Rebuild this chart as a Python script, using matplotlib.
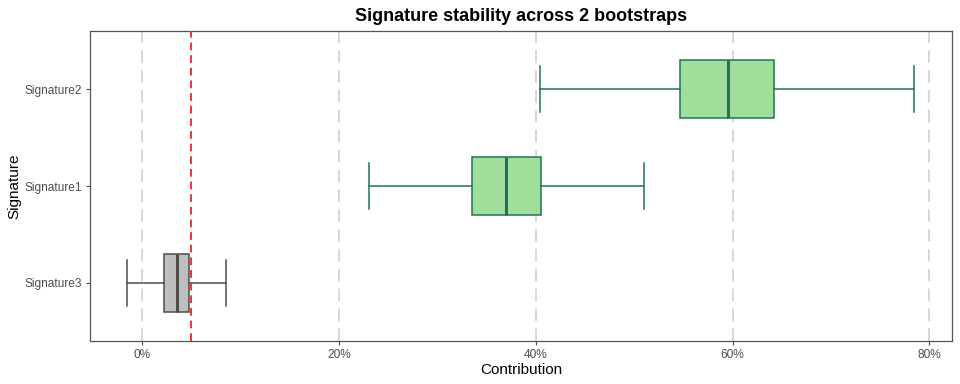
import matplotlib
matplotlib.use("Agg")
import matplotlib.pyplot as plt
from matplotlib.ticker import FuncFormatter

plt.rcParams["font.family"] = ["Liberation Sans", "DejaVu Sans"]

# bootstrap contribution summaries (fractions in %)
signatures = ["Signature3", "Signature1", "Signature2"]
whislo = [-1.5, 23.1, 40.4]
q1 = [2.2, 33.5, 54.7]
med = [3.5, 37.0, 59.5]
q3 = [4.8, 40.5, 64.2]
whishi = [8.5, 51.0, 78.4]
above_threshold = [False, True, True]
threshold = 5.0
xticks = [0, 20, 40, 60, 80]

green_fill, green_edge = "#a1de9c", "#1f7359"
grey_fill, grey_edge = "#bebebe", "#4d4d4d"

fig = plt.figure(figsize=(9.6, 3.84), dpi=100)
ax = fig.add_axes([90 / 960, 1 - 341 / 384, 862 / 960, 310 / 384])

for x in xticks:
    ax.axvline(x, color="#d4d4d4", lw=1.3, ls=(0, (7, 4)), zorder=0)

for i, name in enumerate(signatures):
    fc, ec = (green_fill, green_edge) if above_threshold[i] else (grey_fill, grey_edge)
    stats = [{"whislo": whislo[i], "q1": q1[i], "med": med[i],
              "q3": q3[i], "whishi": whishi[i], "fliers": [], "label": name}]
    ax.bxp(stats, positions=[i + 1], widths=0.6, capwidths=0.47,
           vert=False, patch_artist=True, showfliers=False,
           boxprops=dict(facecolor=fc, edgecolor=ec, linewidth=1.1),
           medianprops=dict(color=ec, linewidth=2.2),
           whiskerprops=dict(color=ec, linewidth=1.1),
           capprops=dict(color=ec, linewidth=1.1), manage_ticks=False)

ax.axvline(threshold, color="#f03535", lw=1.4, ls=(0, (4, 2.5)), zorder=3)

ax.set_xlim(-5.3, 82.3)
ax.set_ylim(0.4, 3.6)
ax.set_xticks(xticks)
ax.xaxis.set_major_formatter(FuncFormatter(lambda v, p: f"{v:.0f}%"))
ax.set_yticks(range(1, len(signatures) + 1))
ax.set_yticklabels(signatures)
ax.tick_params(axis="both", labelsize=8.6, labelcolor="#4d4d4d", color="#4d4d4d",
               length=3, width=0.8, pad=3)
for s in ax.spines.values():
    s.set_color("#555555")
    s.set_linewidth(0.9)

ax.set_xlabel("Contribution", fontsize=11, labelpad=1.5)
ax.set_ylabel("Signature", fontsize=11, labelpad=2)
ax.set_title("Signature stability across 2 bootstraps", fontsize=13,
             fontweight="bold", pad=7)

fig.savefig("out.png", dpi=100)
